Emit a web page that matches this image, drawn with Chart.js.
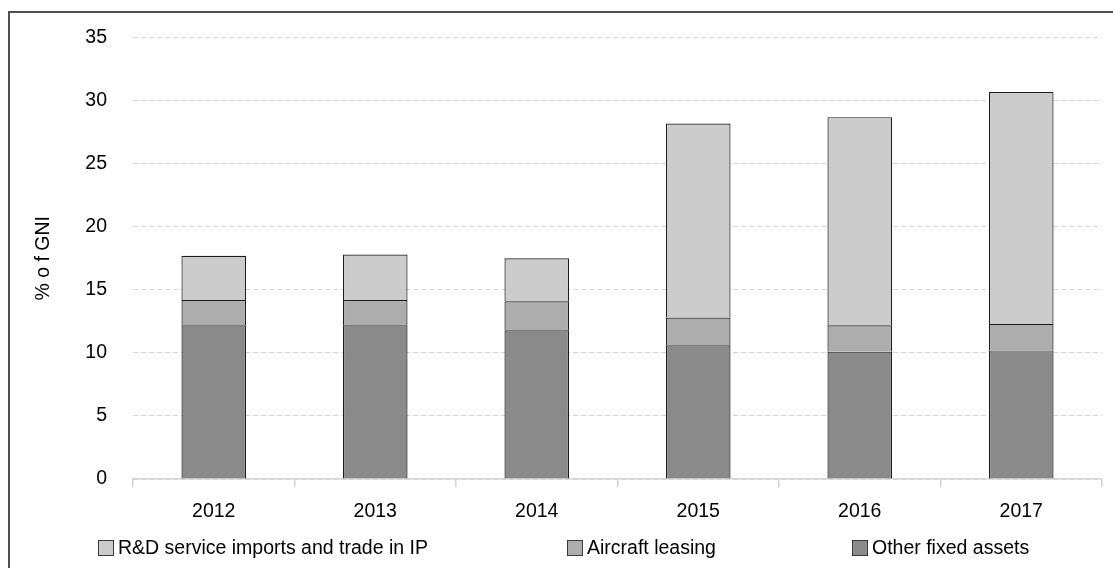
<!DOCTYPE html>
<html>
<head>
<meta charset="utf-8">
<script src="https://cdn.jsdelivr.net/npm/chart.js@4.4.0/dist/chart.umd.min.js"></script>
<style>
  body { margin: 0; background: #fff; }
  #wrap { position: relative; width: 1113px; height: 568px; overflow: hidden; }
  #frame { position: absolute; left: 8px; top: 11px; width: 1200px; height: 700px;
           border: 2px solid #505050; box-sizing: border-box; pointer-events: none; }
  canvas { position: absolute; left: 0; top: 0; }
</style>
</head>
<body>
<div id="wrap">
  <canvas id="chart" width="1113" height="568"></canvas>
  <div id="frame"></div>
</div>
<script>
// Values (% of GNI)
const years = ["2012", "2013", "2014", "2015", "2016", "2017"];
const otherFixed = [12.2, 12.2, 11.8, 10.6, 10.1, 10.2];
const aircraft = [2.0, 2.0, 2.3, 2.2, 2.1, 2.1];
const rndImports = [3.5, 3.6, 3.4, 15.4, 16.5, 18.4];
const legendOrder = ["R&D service imports and trade in IP", "Aircraft leasing", "Other fixed assets"];

const fontFamily = "'Liberation Sans', Arial, sans-serif";

// Legend drawn by hand so the items can sit far apart like the original
const spreadLegend = {
    id: "spreadLegend",
    afterDraw(chart) {
        const ctx = chart.ctx;
        const startX = [98, 567, 852];
        const y = 548;
        ctx.save();
        ctx.font = "19.5px " + fontFamily;
        ctx.textBaseline = "middle";
        ctx.textAlign = "left";
        legendOrder.forEach((name, i) => {
            const ds = chart.data.datasets.find(d => d.label === name);
            ctx.fillStyle = ds.backgroundColor;
            ctx.fillRect(startX[i] + 0.5, y - 7.5, 15, 15);
            ctx.strokeStyle = "#3a3a3a";
            ctx.lineWidth = 1;
            ctx.strokeRect(startX[i] + 0.5, y - 7.5, 15, 15);
            ctx.fillStyle = "#000";
            ctx.fillText(name, startX[i] + 20, y + 1);
        });
        ctx.restore();
    }
};

new Chart(document.getElementById("chart"), {
    type: "bar",
    data: {
        labels: years,
        datasets: [
            {
                label: "Other fixed assets",
                data: otherFixed,
                backgroundColor: "#8a8a8a",
                borderColor: "#1c1c1c",
                borderWidth: 1.2
            },
            {
                label: "Aircraft leasing",
                data: aircraft,
                backgroundColor: "#adadad",
                borderColor: "#1c1c1c",
                borderWidth: 1.2
            },
            {
                label: "R&D service imports and trade in IP",
                data: rndImports,
                backgroundColor: "#cccccc",
                borderColor: "#1c1c1c",
                borderWidth: 1.2
            }
        ]
    },
    options: {
        responsive: false,
        animation: false,
        events: [],
        barPercentage: 0.4,
        categoryPercentage: 1,
        layout: {
            padding: { top: 34, right: 11, bottom: 40, left: 0 }
        },
        plugins: {
            legend: { display: false },
            tooltip: { enabled: false }
        },
        scales: {
            x: {
                stacked: true,
                grid: {
                    offset: true,
                    drawOnChartArea: false,
                    drawTicks: true,
                    tickLength: 8,
                    color: "#d4d4d4",
                    lineWidth: 1.5
                },
                border: { display: true, color: "#d4d4d4", width: 1.5 },
                ticks: {
                    color: "#000",
                    padding: 13,
                    font: { family: fontFamily, size: 19.5 }
                },
                afterFit(scale) { scale.height = 49; }
            },
            y: {
                stacked: true,
                min: 0,
                max: 35,
                ticks: {
                    stepSize: 5,
                    color: "#000",
                    padding: 26,
                    font: { family: fontFamily, size: 19.5 }
                },
                grid: {
                    drawTicks: false,
                    color: "#d4d4d4",
                    lineWidth: 1
                },
                border: { display: false, dash: [5, 3] },
                title: {
                    display: true,
                    text: "% o f GNI",
                    color: "#000",
                    padding: { top: 32, bottom: 0 },
                    font: { family: fontFamily, size: 19.5 }
                },
                afterFit(scale) { scale.width = 133; }
            }
        }
    },
    plugins: [spreadLegend]
});
</script>
</body>
</html>
